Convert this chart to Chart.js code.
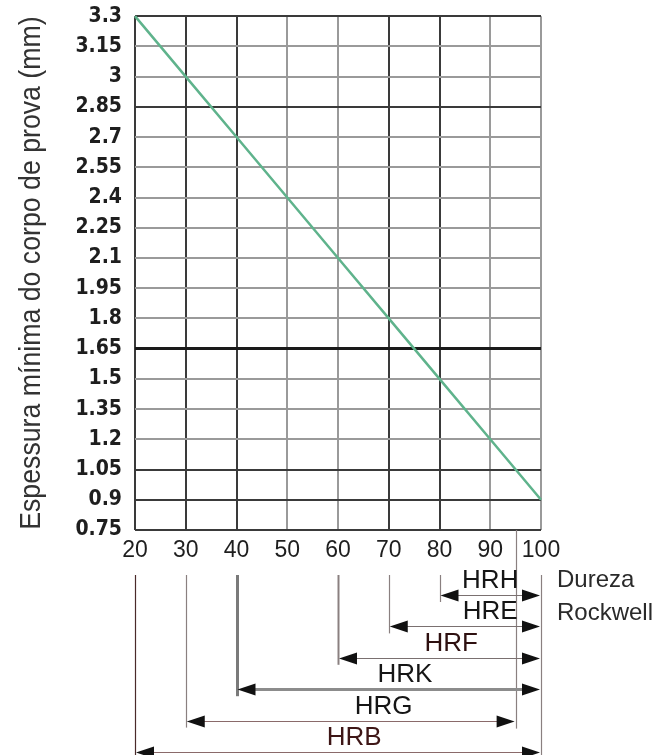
<!DOCTYPE html>
<html>
<head>
<meta charset="utf-8">
<script src="https://cdn.jsdelivr.net/npm/chart.js@4.4.1/dist/chart.umd.min.js"></script>
<style>
  html, body { margin: 0; padding: 0; background: #fff; }
  #wrap { width: 669px; height: 755px; }
</style>
</head>
<body>
<div id="wrap"><canvas id="espessura" width="669" height="755"></canvas></div>
<script>
/* data */
const durezaX     = [20, 30, 40, 50, 60, 70, 80, 90, 100];
const espessuraMm = [3.3, 3.0, 2.7, 2.4, 2.1, 1.8, 1.5, 1.2, 0.9];
const xTicks      = [20, 30, 40, 50, 60, 70, 80, 90, 100];
const yTicks      = [0.75, 0.9, 1.05, 1.2, 1.35, 1.5, 1.65, 1.8, 1.95, 2.1, 2.25, 2.4, 2.55, 2.7, 2.85, 3, 3.15, 3.3];
const yTickLabels = ['0.75', '0.9', '1.05', '1.2', '1.35', '1.5', '1.65', '1.8', '1.95', '2.1', '2.25', '2.4', '2.55', '2.7', '2.85', '3', '3.15', '3.3'];
const yTitle      = 'Espessura mínima do corpo de prova (mm)';
/* escalas rockwell */
const escalaNomes = ['HRH', 'HRE', 'HRF', 'HRK', 'HRG', 'HRB'];
const escalaDe    = [80, 70, 60, 40, 30, 20];
const escalaAte   = [100, 100, 100, 100, 95, 100];

/* styles */
const NARROW = "'Liberation Sans Narrow', 'DejaVu Sans Condensed', sans-serif";
const SANS   = "'Liberation Sans', Arial, sans-serif";
const darkX  = [20, 30, 40, 70, 80];
const darkY  = [0.75, 0.9, 1.05, 2.85, 3.3];
const labelAt    = [90, 90, 82.3, 73.2, 69, 63.2]; // label centre, x-axis units
const labelColor = ['#151515', '#151515', '#2e1010', '#151515', '#151515', '#3e1616'];

const near = (a, b)=> Math.abs(a - b) < 1e-6;

/* rotated y title, narrowed like the original */
const tituloPlugin = {
    id: 'titulo',
    afterDraw(chart){
        const ctx = chart.ctx;
        const a   = chart.chartArea;
        ctx.save();
        ctx.translate(40, (a.top + a.bottom) / 2);
        ctx.rotate(-Math.PI / 2);
        ctx.scale(0.89, 1);
        ctx.font         = '30px ' + SANS;
        ctx.fillStyle    = '#333';
        ctx.textAlign    = 'center';
        ctx.textBaseline = 'alphabetic';
        ctx.fillText(yTitle, 0, 0);
        ctx.restore();
    }
};

/* bottom part: rockwell ranges drawn off the x scale */
const escalasPlugin = {
    id: 'escalas',
    afterDraw(chart){
        const ctx = chart.ctx;
        const x   = chart.scales.x;
        const top = chart.chartArea.bottom;
        const rowY = (i)=> top + 65 + i * 31.4;
        const H = chart.height;
        ctx.save();
        /* vertical guide lines */
        for(let i = 0; i < escalaNomes.length; i++){
            let px = Math.round(x.getPixelForValue(escalaDe[i])) + 0.5;
            let y1 = (i === escalaNomes.length - 1) ? H : rowY(i) + 7;
            ctx.beginPath();
            ctx.strokeStyle = escalaDe[i] === 40 ? '#7a7a7a' : (escalaDe[i] === 20 ? '#4a2a2a' : '#8a8080');
            ctx.lineWidth   = escalaDe[i] === 40 ? 3 : (escalaDe[i] === 60 ? 2 : 1.2);
            ctx.moveTo(px, top + 45);
            ctx.lineTo(px, y1);
            ctx.stroke();
        };
        let ends = [...new Set(escalaAte)];
        for(let e of ends){
            let px = Math.round(x.getPixelForValue(e)) + 0.5;
            let last = escalaAte.lastIndexOf(e);
            let y0 = xTicks.includes(e) ? top + 45 : top;
            let y1 = (last === escalaNomes.length - 1) ? H : rowY(last) + 8;
            ctx.beginPath();
            ctx.strokeStyle = '#8a8080';
            ctx.lineWidth   = 1.2;
            ctx.moveTo(px, y0);
            ctx.lineTo(px, y1);
            ctx.stroke();
        };
        /* arrows */
        for(let i = 0; i < escalaNomes.length; i++){
            let y  = Math.round(rowY(i)) + 0.5;
            let xa = x.getPixelForValue(escalaDe[i]);
            let xb = x.getPixelForValue(escalaAte[i]);
            ctx.beginPath();
            ctx.strokeStyle = i === 3 ? '#8c8c8c' : (i >= 4 ? '#8a6a6a' : '#7a7070');
            ctx.lineWidth   = i === 3 ? 3 : 1.2;
            ctx.moveTo(xa + 10, y);
            ctx.lineTo(xb - 10, y);
            ctx.stroke();
            ctx.fillStyle = '#111';
            ctx.beginPath();
            ctx.moveTo(xa + 1, y);
            ctx.lineTo(xa + 19, y - 6);
            ctx.lineTo(xa + 19, y + 6);
            ctx.closePath();
            ctx.fill();
            ctx.beginPath();
            ctx.moveTo(xb - 1, y);
            ctx.lineTo(xb - 19, y - 6);
            ctx.lineTo(xb - 19, y + 6);
            ctx.closePath();
            ctx.fill();
            /* label */
            ctx.font         = '26px ' + SANS;
            ctx.fillStyle    = labelColor[i];
            ctx.textAlign    = 'center';
            ctx.textBaseline = 'middle';
            ctx.fillText(escalaNomes[i], x.getPixelForValue(labelAt[i]), y - 15);
        };
        /* side caption */
        ctx.font         = '24px ' + SANS;
        ctx.fillStyle    = '#2a2a2a';
        ctx.textAlign    = 'left';
        ctx.textBaseline = 'middle';
        ctx.fillText('Dureza', chart.chartArea.right + 16, top + 50);
        ctx.fillText('Rockwell', chart.chartArea.right + 16, top + 83);
        ctx.restore();
    }
};

const chart = new Chart(document.querySelector('#espessura').getContext('2d'), {
    type: 'line',
    data: {
        datasets: [{
            data: durezaX.map((v, i)=> ({x: v, y: espessuraMm[i]})),
            borderColor: '#5fb38c',
            borderWidth: 2.5,
            pointRadius: 0,
            tension: 0,
            clip: false
        }]
    },
    options: {
        responsive: false,
        animation: false,
        events: [],
        layout: { padding: { top: 16, right: 128, bottom: 0, left: 0 } },
        plugins: { legend: { display: false }, tooltip: { enabled: false } },
        scales: {
            x: {
                type: 'linear',
                min: 20,
                max: 100,
                afterFit: (s)=>{ s.height = 225; },
                afterBuildTicks: (s)=>{ s.ticks = xTicks.map(v=> ({value: v})); },
                border: { display: false },
                grid: {
                    drawTicks: false,
                    color: (c)=> darkX.includes(c.tick.value) ? '#3a3a3a' : '#9a9a9a',
                    lineWidth: 2
                },
                ticks: {
                    padding: 7,
                    color: '#1e1e1e',
                    font: { family: SANS, size: 23 },
                    maxRotation: 0,
                    autoSkip: false
                }
            },
            y: {
                type: 'linear',
                min: 0.75,
                max: 3.3,
                afterFit: (s)=>{ s.width = 135; },
                afterBuildTicks: (s)=>{ s.ticks = yTicks.map(v=> ({value: v})); },
                border: { display: false },
                grid: {
                    drawTicks: false,
                    color: (c)=> near(c.tick.value, 1.65) ? '#1a1a1a' : (darkY.some(v=> near(v, c.tick.value)) ? '#3a3a3a' : '#9a9a9a'),
                    lineWidth: (c)=> near(c.tick.value, 1.65) ? 3 : 2
                },
                ticks: {
                    padding: 13,
                    color: '#1e1e1e',
                    font: { family: NARROW, size: 21, weight: 'bold', lineHeight: 0.3 },
                    autoSkip: false,
                    callback: (v, i)=> yTickLabels[i]
                }
            }
        }
    },
    plugins: [tituloPlugin, escalasPlugin]
});
</script>
</body>
</html>
